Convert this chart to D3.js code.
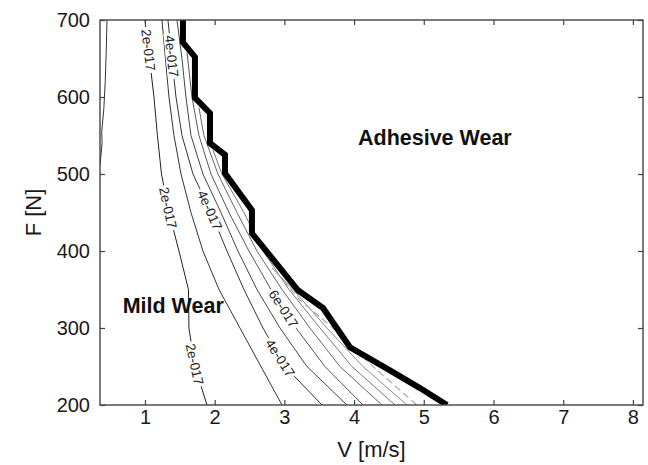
<!DOCTYPE html>
<html><head><meta charset="utf-8">
<script src="https://cdn.jsdelivr.net/npm/d3@7"></script>
<style>
body{margin:0;background:#fff}
svg{display:block}
text{font-family:"Liberation Sans",Arial,Helvetica,sans-serif}
</style>
</head><body>
<svg id="chart" width="648" height="465"></svg>
<script>
// ---------------- data (V [m/s], F [N]) ----------------
const xTicks = [1, 2, 3, 4, 5, 6, 7, 8];
const yTicks = [200, 300, 400, 500, 600, 700];

// contour near the left edge
const edgeContour = [[0.455,700],[0.445,660],[0.43,620],[0.41,585],[0.38,555],[0.385,540],[0.37,525],[0.352,510]];
// contour levels, left to right
const level2e = [[1.000,700],[1.065,650],[1.129,600],[1.179,550],[1.237,500],[1.344,450],[1.488,400],[1.624,350],[1.631,300],[1.717,250],[1.890,200]];
const level3e = [[1.244,700],[1.294,650],[1.344,600],[1.416,550],[1.517,500],[1.660,450],[1.832,400],[2.062,350],[2.363,300],[2.664,250],[2.966,200]];
const level4e = [[1.330,700],[1.387,650],[1.445,600],[1.531,550],[1.689,500],[1.947,450],[2.176,400],[2.420,350],[2.693,300],[3.009,250],[3.540,200]];
const level5e = [[1.459,700],[1.531,650],[1.588,600],[1.660,550],[1.832,500],[2.090,450],[2.334,400],[2.607,350],[2.937,300],[3.324,250],[3.898,200]];
const level6e = [[1.603,658],[1.674,600],[1.775,550],[1.947,500],[2.205,450],[2.492,400],[2.808,350],[3.166,300],[3.582,250],[4.128,200]];
const level7e = [[1.775,586],[1.846,550],[2.047,500],[2.320,450],[2.607,400],[2.966,350],[3.367,300],[3.797,250],[4.400,200]];
const level8e = [[1.976,531],[2.105,500],[2.420,450],[2.693,400],[3.066,350],[3.511,300],[3.970,250],[4.587,200]];
const level9e = [[2.822,378],[3.123,350],[3.611,300],[4.128,250],[4.759,200]];
const level10e = [[2.880,373],[3.224,336],[3.697,300],[4.271,250],[4.902,200]];

// mild / adhesive wear transition boundary
const boundary = [[1.545,700],[1.545,671],[1.717,652],[1.717,599],[1.933,579],[1.933,540],[2.148,525],[2.148,501],[2.535,453],[2.535,423],[3.195,349],[3.554,326],[3.941,275],[4.515,245],[4.945,222],[5.333,200]];

// inline contour labels: text, contour, F position
const labelTexts = ["2e-017","2e-017","2e-017","4e-017","4e-017","4e-017","6e-017"];
const labelLines = ["level2e","level2e","level2e","level4e","level4e","level4e","level6e"];
const labelF = [661, 456, 253, 653, 453, 261, 325];

const regionNames = ["Adhesive Wear", "Mild Wear"];
const regionV = [4.056, 0.68];
const regionF = [538, 320];

// ---------------- drawing ----------------
const svg = d3.select("#chart");
const L = 100, R = 643, T = 20, B = 405;
const x = d3.scaleLinear().domain([0.355, 8.145]).range([L, R]);
const y = d3.scaleLinear().domain([200, 700]).range([B, T]);

const lines = {edgeContour, level2e, level3e, level4e, level5e, level6e, level7e, level8e, level9e, level10e};
const lineStyle = {
  edgeContour:{c:"#333",w:1}, level2e:{c:"#222",w:1}, level3e:{c:"#333",w:1}, level4e:{c:"#333",w:1},
  level5e:{c:"#444",w:1}, level6e:{c:"#555",w:1}, level7e:{c:"#666",w:1}, level8e:{c:"#777",w:1},
  level9e:{c:"#888",w:1}, level10e:{c:"#aaa",w:1.2,dash:"7,4"}
};

const defs = svg.append("defs");
defs.append("clipPath").attr("id","plotClip").append("rect")
  .attr("x",L).attr("y",T).attr("width",R-L).attr("height",B-T);

const line = d3.line().x(d=>x(d[0])).y(d=>y(d[1]));

function xAtF(pts, F){
  for(let i=0;i<pts.length-1;i++){
    const a=pts[i], b=pts[i+1];
    if((F<=a[1]&&F>=b[1])||(F>=a[1]&&F<=b[1])){
      const t=(F-a[1])/(b[1]-a[1]||1);
      return a[0]+t*(b[0]-a[0]);
    }
  }
  return pts[pts.length-1][0];
}

// label geometry
const fontSize = 13.5;
const labels = labelTexts.map((t,i)=>{
  const pts = lines[labelLines[i]];
  const F = labelF[i];
  const v = xAtF(pts, F);
  const px = x(v), py = y(F);
  const p1x = x(xAtF(pts, F+18)), p1y = y(F+18);
  const p2x = x(xAtF(pts, F-18)), p2y = y(F-18);
  const ang = Math.atan2(p2y-p1y, p2x-p1x)*180/Math.PI;
  return {t, px, py, ang};
});

// measure text widths
const meas = svg.append("text").attr("font-size",fontSize).style("visibility","hidden");
labels.forEach(l=>{ meas.text(l.t); l.w = meas.node().getComputedTextLength(); });
meas.remove();

const mask = defs.append("mask").attr("id","labelMask").attr("maskUnits","userSpaceOnUse")
  .attr("x",0).attr("y",0).attr("width",648).attr("height",465);
mask.append("rect").attr("x",0).attr("y",0).attr("width",648).attr("height",465).attr("fill","#fff");
labels.forEach(l=>{
  mask.append("rect")
    .attr("x",-l.w/2-2).attr("y",-6).attr("width",l.w+4).attr("height",12)
    .attr("transform",`translate(${l.px},${l.py}) rotate(${l.ang})`)
    .attr("fill","#000");
});

const plot = svg.append("g").attr("clip-path","url(#plotClip)");
const cg = plot.append("g").attr("mask","url(#labelMask)");
Object.keys(lines).forEach(k=>{
  const s = lineStyle[k];
  cg.append("path").datum(lines[k]).attr("d",line)
    .attr("fill","none").attr("stroke",s.c).attr("stroke-width",s.w)
    .attr("stroke-dasharray",s.dash||null).attr("stroke-linejoin","round");
});

plot.append("path").datum(boundary).attr("d",line)
  .attr("fill","none").attr("stroke","#000").attr("stroke-width",6)
  .attr("stroke-linejoin","miter").attr("stroke-miterlimit",4);

svg.append("g").selectAll("text").data(labels).join("text")
  .attr("transform",d=>`translate(${d.px},${d.py}) rotate(${d.ang})`)
  .attr("text-anchor","middle").attr("dy","0.35em")
  .attr("font-size",fontSize).attr("fill","#222").text(d=>d.t);

// region annotations
svg.append("g").selectAll("text").data(regionNames).join("text")
  .attr("x",(d,i)=>x(regionV[i])).attr("y",(d,i)=>y(regionF[i]))
  .attr("font-size",21.5).attr("font-weight","bold").attr("fill","#111").text(d=>d);

// axes
const axColor = "#444";
const gx = svg.append("g").attr("transform",`translate(0,${B})`)
  .call(d3.axisBottom(x).tickValues(xTicks).tickSizeInner(-5).tickSizeOuter(0).tickPadding(5));
const gy = svg.append("g").attr("transform",`translate(${L},0)`)
  .call(d3.axisLeft(y).tickValues(yTicks).tickSizeInner(-5).tickSizeOuter(0).tickPadding(10));
const gt = svg.append("g").attr("transform",`translate(0,${T})`)
  .call(d3.axisTop(x).tickValues(xTicks).tickSizeInner(-5).tickSizeOuter(0).tickFormat(""));
const gr = svg.append("g").attr("transform",`translate(${R},0)`)
  .call(d3.axisRight(y).tickValues(yTicks).tickSizeInner(-5).tickSizeOuter(0).tickFormat(""));
[gx,gy,gt,gr].forEach(g=>{
  g.select(".domain").remove();
  g.selectAll("line").attr("stroke",axColor).attr("stroke-width",1.2);
  g.selectAll("text").attr("font-size",20).attr("fill","#1a1a1a")
    .attr("font-family",'"Liberation Sans",Arial,sans-serif');
});
svg.append("rect").attr("x",L).attr("y",T).attr("width",R-L).attr("height",B-T)
  .attr("fill","none").attr("stroke",axColor).attr("stroke-width",1.4);

// axis titles
svg.append("text").attr("x",(L+R)/2).attr("y",457).attr("text-anchor","middle")
  .attr("font-size",22).attr("fill","#1a1a1a").text("V [m/s]");
svg.append("text").attr("transform",`translate(41,${(T+B)/2}) rotate(-90)`).attr("text-anchor","middle")
  .attr("font-size",22).attr("fill","#1a1a1a").text("F [N]");
</script>
</body></html>
